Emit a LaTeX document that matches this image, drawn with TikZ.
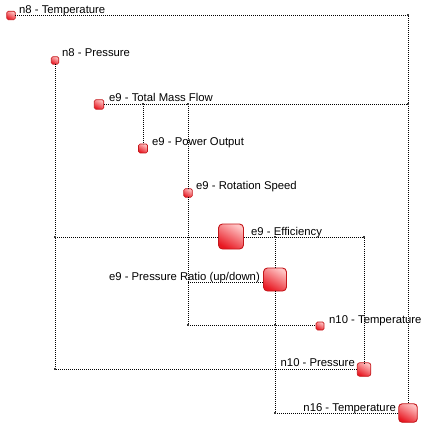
\documentclass[tikz,border=0pt]{standalone}
\usepackage{fontspec}
\setmainfont{Liberation Sans}
\definecolor{sqlight}{RGB}{255,196,196}
\definecolor{sqdark}{RGB}{232,24,34}
\definecolor{sqedge}{RGB}{196,22,26}
\definecolor{dotgray}{RGB}{60,60,60}
\begin{document}
\begin{tikzpicture}[x=1pt,y=-1pt,
  sq/.style={draw=sqedge, line width=0.7pt, top color=sqlight, bottom color=sqdark, shading angle=-30, inner sep=0pt, outer sep=0pt, rounded corners=1.5pt},
  bigsq/.style={sq, rounded corners=4pt, line width=0.9pt},
  lbl/.style={inner sep=0pt, font=\fontsize{11.3}{13}\selectfont, text=black},
  link/.style={line width=0.9pt, dash pattern=on 0.9pt off 1.1pt},
  jdot/.style={fill=dotgray, inner sep=0pt, minimum size=2.6pt}]
\useasboundingbox (0,0) rectangle (426,427);
% nodes
\node[sq, minimum size=8.5pt] (n8T) at (11,15.5) {};
\node[sq, minimum size=7.5pt] (n8P) at (55,60.5) {};
\node[sq, minimum size=9.5pt] (TMF) at (99,104.5) {};
\node[sq, minimum size=9pt] (PO) at (143,148.5) {};
\node[sq, minimum size=8.5pt] (RS) at (188,193) {};
\node[bigsq, minimum size=25pt] (Eff) at (231,236.5) {};
\node[bigsq, minimum size=23pt] (PR) at (275,279.5) {};
\node[sq, minimum size=8pt] (n10T) at (320,326) {};
\node[sq, minimum size=13.5pt, rounded corners=2.5pt] (n10P) at (364,369.5) {};
\node[bigsq, minimum size=18.5pt, rounded corners=3.5pt] (n16T) at (408,413) {};
% labels
\node[lbl, anchor=base west] (ln8T) at (19,14) {n8 - Temperature};
\node[lbl, anchor=base west] (ln8P) at (62,57) {n8 - Pressure};
\node[lbl, anchor=base west] (lTMF) at (109,102) {e9 - Total Mass Flow};
\node[lbl, anchor=base west] (lPO) at (152,146) {e9 - Power Output};
\node[lbl, anchor=base west] (lRS) at (196,190) {e9 - Rotation Speed};
\node[lbl, anchor=base west] (lEff) at (251,235) {e9 - Efficiency};
\node[lbl, anchor=base east] (lPR) at (260,280) {e9 - Pressure Ratio (up/down)};
\node[lbl, anchor=base west] (ln10T) at (329,323) {n10 - Temperature};
\node[lbl, anchor=base east] (ln10P) at (355,366) {n10 - Pressure};
\node[lbl, anchor=base east] (ln16T) at (396,411) {n16 - Temperature};
% junctions
\coordinate (j1) at (408,15);
\coordinate (j2) at (408,104);
\coordinate (j3) at (143,104);
\coordinate (j4) at (188,104);
\coordinate (j5) at (55,237);
\coordinate (j6) at (364,237);
\coordinate (j7) at (275,237);
\coordinate (j8) at (188,325);
\coordinate (j9) at (275,325);
\coordinate (j10) at (55,369);
\coordinate (j11) at (275,413);
\coordinate (j12) at (188,282.5);
% connectors
\draw[link] (n8T.east |- j1) -- (j1) -- (n16T.north);
\draw[link] (TMF.east |- j2) -- (j2);
\draw[link] (j3) -- (PO.north);
\draw[link] (j4) -- (RS.north);
\draw[link] (RS.south) -- (j8) -- (n10T.west |- j8);
\draw[link] (j12) -- (PR.west |- j12);
\draw[link] (n8P.south) -- (j10) -- (n10P.west |- j10);
\draw[link] (j5) -- (Eff.west |- j5);
\draw[link] (Eff.east |- j6) -- (j6) -- (n10P.north);
\draw[link] (j7) -- (PR.north);
\draw[link] (PR.south) -- (j11) -- (n16T.west |- j11);
% junction dots
\foreach \j in {j1,j2,j3,j4,j5,j6,j7,j8,j9,j10,j11}
  \node[jdot] at (\j) {};
\end{tikzpicture}
\end{document}
